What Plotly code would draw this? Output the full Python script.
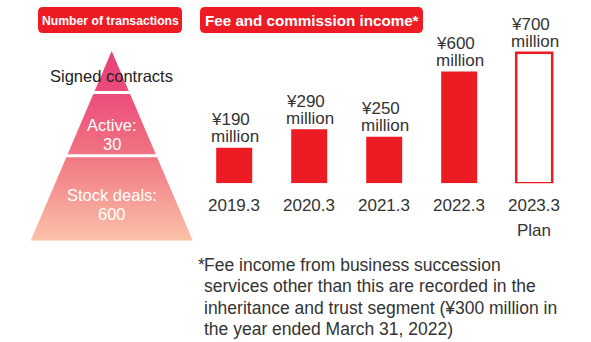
import plotly.graph_objects as go

# Fee and commission income (¥ million)
years = ["2019.3", "2020.3", "2021.3", "2022.3", "2023.3"]
fee_income = [190, 290, 250, 600, 700]
value_labels = ["¥190", "¥290", "¥250", "¥600", "¥700"]
sub_labels = ["", "", "", "", "Plan"]
is_plan = [False, False, False, False, True]

# Transactions pyramid tiers, top to bottom
tier_names = ["Signed contracts", "Active:", "Stock deals:"]
tier_counts = ["", "30", "600"]

W, H = 591, 342
RED = "#ED1C24"
TXT = "#333333"
FONT = "Liberation Sans, Arial, sans-serif"

# bar plot geometry (pixels)
base_px = 183.3
px_per_unit = 0.1865
x_left_px, x_right_px = 196.7, 571.7

fig = go.Figure()

fig.add_trace(go.Bar(
    x=years, y=fee_income,
    marker=dict(
        color=["white" if p else RED for p in is_plan],
        line=dict(color=RED, width=[2.5 if p else 0 for p in is_plan]),
    ),
    width=0.48,
    hoverinfo="skip",
    xaxis="x", yaxis="y",
))

# pyramid drawn in pixel space on an overlay axis
apex = (111.7, 51.0)
base_y = 240.5
half_base = 81.0
slope = half_base / (base_y - apex[1])
tier_bounds = [(51.0, 91.0), (94.0, 154.2), (157.2, 240.5)]
grad = [[0.0, "#E8407A"], [0.22, "#EC4C7A"], [0.55, "#F07582"], [1.0, "#FBC2A8"]]

for (y0, y1) in tier_bounds:
    h0 = slope * (y0 - apex[1])
    h1 = slope * (y1 - apex[1])
    xs = [apex[0] - h0, apex[0] + h0, apex[0] + h1, apex[0] - h1, apex[0] - h0]
    ys = [y0, y0, y1, y1, y0]
    fig.add_trace(go.Scatter(
        x=xs, y=ys, mode="lines", fill="toself",
        line=dict(width=0),
        fillgradient=dict(type="vertical", colorscale=grad,
                          start=apex[1], stop=base_y),
        hoverinfo="skip", xaxis="x2", yaxis="y2",
    ))

annotations = []

# pyramid tier texts
tier_text_pos = [(76.0, None), (125.0, 144.0), (195.0, 213.5)]
tier_colors = ["#222222", "white", "white"]
for name, cnt, (ya, yb), col in zip(tier_names, tier_counts, tier_text_pos, tier_colors):
    annotations.append(dict(x=apex[0], y=ya, xref="x2", yref="y2", text=name,
                            showarrow=False, borderpad=0,
                            font=dict(family=FONT, size=16.5, color=col)))
    if cnt:
        annotations.append(dict(x=apex[0], y=yb, xref="x2", yref="y2", text=cnt,
                                showarrow=False, borderpad=0,
                                font=dict(family=FONT, size=16.5, color=col)))

# value labels above bars (category index positions on the bar axis)
for i, (v, lab) in enumerate(zip(fee_income, value_labels)):
    annotations.append(dict(x=i, y=v, xref="x", yref="y", text=lab, showarrow=False,
                            xanchor="left", yanchor="middle", xshift=-24.5, yshift=28,
                            borderpad=0, font=dict(family=FONT, size=17, color=TXT)))
    annotations.append(dict(x=i, y=v, xref="x", yref="y", text="million", showarrow=False,
                            xanchor="left", yanchor="middle", xshift=-24.5, yshift=11,
                            borderpad=0, font=dict(family=FONT, size=17, color=TXT)))

# category labels below bars
for i, (yr, sub) in enumerate(zip(years, sub_labels)):
    annotations.append(dict(x=i, y=0, xref="x", yref="y", text=yr, showarrow=False,
                            yanchor="middle", yshift=-21.7, borderpad=0,
                            font=dict(family=FONT, size=17, color=TXT)))
    if sub:
        annotations.append(dict(x=i, y=0, xref="x", yref="y", text=sub, showarrow=False,
                                yanchor="middle", yshift=-46.7, borderpad=0,
                                font=dict(family=FONT, size=17, color=TXT)))

# header boxes
def rounded(x0, y0, x1, y1, r):
    return (f"M {x0+r},{y0} H {x1-r} Q {x1},{y0} {x1},{y0+r} V {y1-r} "
            f"Q {x1},{y1} {x1-r},{y1} H {x0+r} Q {x0},{y1} {x0},{y1-r} "
            f"V {y0+r} Q {x0},{y0} {x0+r},{y0} Z")

headers = [("Number of transactions", 38, 182, 12.2), ("Fee and commission income*", 200, 423, 15.2)]
shapes = []
for text, x0, x1, fs in headers:
    shapes.append(dict(type="path", path=rounded(x0, 7, x1, 33, 5), xref="x2", yref="y2",
                       fillcolor=RED, line=dict(width=0), layer="below"))
    annotations.append(dict(x=(x0 + x1) / 2, y=20.5, xref="x2", yref="y2", text=f"<b>{text}</b>",
                            showarrow=False, borderpad=0,
                            font=dict(family=FONT, size=fs, color="white")))

# footnote
note_lines = ["Fee income from business succession",
              "services other than this are recorded in the",
              "inheritance and trust segment (¥300 million in",
              "the year ended March 31, 2022)"]
annotations.append(dict(x=206, y=265, xref="x2", yref="y2", text="*", showarrow=False,
                        xanchor="right", yanchor="middle", borderpad=0,
                        font=dict(family=FONT, size=17.5, color=TXT)))
for i, line in enumerate(note_lines):
    annotations.append(dict(x=203, y=265 + 21.3 * i, xref="x2", yref="y2", text=line,
                            showarrow=False, xanchor="left", yanchor="middle", borderpad=0,
                            font=dict(family=FONT, size=17.5, color=TXT)))

fig.update_layout(
    width=W, height=H,
    margin=dict(l=0, r=0, t=0, b=0),
    paper_bgcolor="white", plot_bgcolor="rgba(0,0,0,0)",
    showlegend=False,
    xaxis=dict(domain=[x_left_px / W, x_right_px / W], type="category",
               categoryorder="array", categoryarray=years,
               range=[-0.5, len(years) - 0.5],
               visible=False, fixedrange=True),
    yaxis=dict(domain=[(H - base_px) / H, 1.0], range=[0, base_px / px_per_unit],
               visible=False, fixedrange=True),
    xaxis2=dict(domain=[0, 1], range=[0, W], visible=False, fixedrange=True, anchor="y2"),
    yaxis2=dict(domain=[0, 1], range=[H, 0], visible=False, fixedrange=True, anchor="x2"),
    annotations=annotations,
    shapes=shapes,
)

fig.write_html("out.html")
